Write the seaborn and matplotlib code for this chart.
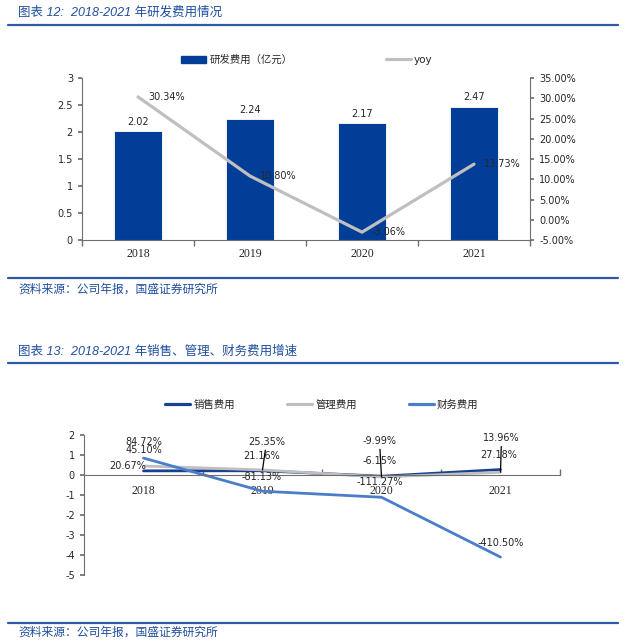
import numpy as np
import pandas as pd
import matplotlib
matplotlib.use("Agg")
import matplotlib.pyplot as plt
import seaborn as sns
from matplotlib.lines import Line2D
from matplotlib.patches import Patch
from matplotlib.ticker import FuncFormatter

# === Data ===
years = ["2018", "2019", "2020", "2021"]
rd_cost = [2.02, 2.24, 2.17, 2.47]          # 研发费用（亿元）
rd_yoy = [30.34, 10.80, -3.06, 13.73]       # yoy, %

series_names = ["销售费用", "管理费用", "财务费用"]
sales_growth = [0.2067, 0.2116, -0.0615, 0.2718]
admin_growth = [0.4510, 0.2535, -0.0999, 0.1396]
finance_growth = [0.8472, -0.8113, -1.1127, -4.1050]

# === Style ===
bar_color = "#023E98"
gray = "#BFBFBF"
line_colors = ["#17408F", "#BFBFBF", "#4A7EC8"]
title_color = "#1F4E9F"
rule_color = "#2C5AA8"
spine_color = "#6E6E6E"

sns.set_theme(style="white")
plt.rcParams["font.family"] = ["DejaVu Sans", "Noto Sans CJK SC"]
plt.rcParams["axes.unicode_minus"] = False

W, H = 640, 642
fig = plt.figure(figsize=(W / 100, H / 100), dpi=100)


def fx(px):
    return px / W


def fy(px):
    return 1 - px / H


# === Titles, rules and sources ===
title_font = dict(family=["Liberation Sans", "Noto Sans CJK SC"], style="italic",
                  color=title_color, fontsize=9, va="center", ha="left")
src_font = dict(family=["Noto Sans CJK SC"], style="italic",
                color=title_color, fontsize=8.5, va="center", ha="left")
fig.text(fx(18), fy(12), "图表 12:  2018-2021 年研发费用情况", **title_font)
fig.text(fx(18), fy(289), "资料来源：公司年报，国盛证券研究所", **src_font)
fig.text(fx(18), fy(352), "图表 13:  2018-2021 年销售、管理、财务费用增速", **title_font)
fig.text(fx(18), fy(632), "资料来源：公司年报，国盛证券研究所", **src_font)
for y in [25, 278, 363, 623]:
    fig.add_artist(Line2D([fx(8), fx(618)], [fy(y), fy(y)], color=rule_color,
                          lw=1.6, transform=fig.transFigure))

# === Chart 1: R&D cost bars + yoy line ===
ax1 = fig.add_axes([fx(82), fy(240), fx(530) - fx(82), fy(78) - fy(240)])
df1 = pd.DataFrame({"year": years, "cost": rd_cost})
sns.barplot(data=df1, x="year", y="cost", color=bar_color, saturation=1,
            width=0.42, edgecolor="white", linewidth=0.6, ax=ax1)
ax1.bar_label(ax1.containers[0], fmt="%.2f", padding=3, fontsize=7)
ax1.set_xlim(-0.5, 3.5)
ax1.set_ylim(0, 3)
ax1.set_yticks(np.arange(0, 3.01, 0.5))
ax1.yaxis.set_major_formatter(FuncFormatter(lambda v, p: f"{v:g}"))
ax1.set_xticks(range(4), years, family="Liberation Serif", fontsize=8.5)
ax1.set_xticks([-0.5, 0.5, 1.5, 2.5, 3.5], minor=True)
ax1.tick_params(axis="x", which="major", length=0, pad=6)
ax1.tick_params(axis="x", which="minor", bottom=True, direction="out", length=4, color=spine_color)
ax1.tick_params(axis="y", left=True, direction="out", length=3, labelsize=7, color=spine_color)
ax1.set_xlabel("")
ax1.set_ylabel("")

ax2 = ax1.twinx()
sns.lineplot(x=np.arange(4), y=rd_yoy, color=gray, lw=2.3, ax=ax2, legend=False)
for i, v in enumerate(rd_yoy):
    ax2.annotate(f"{v:.2f}%", (i, v), xytext=(10, 0), textcoords="offset pixels",
                 ha="left", va="center", fontsize=7)
ax2.set_ylim(-5, 35)
ax2.set_yticks(range(-5, 36, 5))
ax2.yaxis.set_major_formatter(FuncFormatter(lambda v, p: f"{v:.2f}%"))
ax2.tick_params(axis="y", right=True, direction="out", length=3, labelsize=7, color=spine_color)
ax2.set_ylabel("")

for ax in (ax1, ax2):
    ax.spines["top"].set_visible(False)
    for s in ax.spines.values():
        s.set_color(spine_color)
        s.set_linewidth(0.8)
ax1.spines["right"].set_visible(False)
ax2.spines["left"].set_visible(False)
ax2.spines["bottom"].set_visible(False)

fig.legend([Patch(color=bar_color), Line2D([], [], color=gray, lw=2.3)],
           ["研发费用（亿元）", "yoy"], loc="center", bbox_to_anchor=(fx(307), fy(60)),
           ncol=2, frameon=False, fontsize=7.5, columnspacing=9,
           handlelength=2.4, handletextpad=0.3)

# === Chart 2: expense growth lines ===
ax3 = fig.add_axes([fx(84), fy(575), fx(560) - fx(84), fy(435) - fy(575)])
ax3.spines["bottom"].set_position(("data", 0))
df2 = pd.DataFrame({
    "x": np.tile(np.arange(4), 3),
    "growth": sales_growth + admin_growth + finance_growth,
    "series": np.repeat(series_names, 4),
})
sns.lineplot(data=df2, x="x", y="growth", hue="series", hue_order=series_names,
             palette=dict(zip(series_names, line_colors)), lw=2, sort=False,
             legend=False, ax=ax3)

# label offsets (pixels) per series, per year; leader lines for admin 2019-2021
offsets = {
    "销售费用": [(-16, 5), (-1, 15), (-2, 15), (-2, 15)],
    "管理费用": [(0, 16), (4, 28), (-2, 36), (1, 34)],
    "财务费用": [(0, 16), (-1, 14), (-2, 15), (0, 14)],
}
leaders = {("管理费用", 1), ("管理费用", 2), ("管理费用", 3)}
for name, vals in zip(series_names, [sales_growth, admin_growth, finance_growth]):
    for i, v in enumerate(vals):
        arrow = None
        if (name, i) in leaders:
            arrow = dict(arrowstyle="-", color="black", lw=0.9, shrinkA=0, shrinkB=0)
        ax3.annotate(f"{v * 100:.2f}%", (i, v), xytext=offsets[name][i],
                     textcoords="offset pixels", ha="center", va="center",
                     fontsize=7, arrowprops=arrow)

ax3.set_xlim(-0.5, 3.5)
ax3.set_ylim(-5, 2)
ax3.set_yticks(range(-5, 3))
ax3.yaxis.set_major_formatter(FuncFormatter(lambda v, p: f"{v:g}"))
ax3.set_xticks(range(4), years, family="Liberation Serif", fontsize=8.5)
ax3.set_xticks([0.5, 1.5, 2.5, 3.5], minor=True)
ax3.tick_params(axis="x", which="major", length=0, pad=7)
ax3.tick_params(axis="x", which="minor", bottom=True, direction="in", length=4, color=spine_color)
ax3.tick_params(axis="y", left=True, direction="out", length=3, labelsize=7, color=spine_color)
ax3.spines["top"].set_visible(False)
ax3.spines["right"].set_visible(False)
for s in ax3.spines.values():
    s.set_color(spine_color)
    s.set_linewidth(0.8)
ax3.set_xlabel("")
ax3.set_ylabel("")

fig.legend([Line2D([], [], color=c, lw=2.3) for c in line_colors], series_names,
           loc="center", bbox_to_anchor=(fx(322), fy(405)), ncol=3, frameon=False,
           fontsize=7.5, columnspacing=5, handlelength=2.4, handletextpad=0.3)

fig.savefig("out.png", dpi=100)
